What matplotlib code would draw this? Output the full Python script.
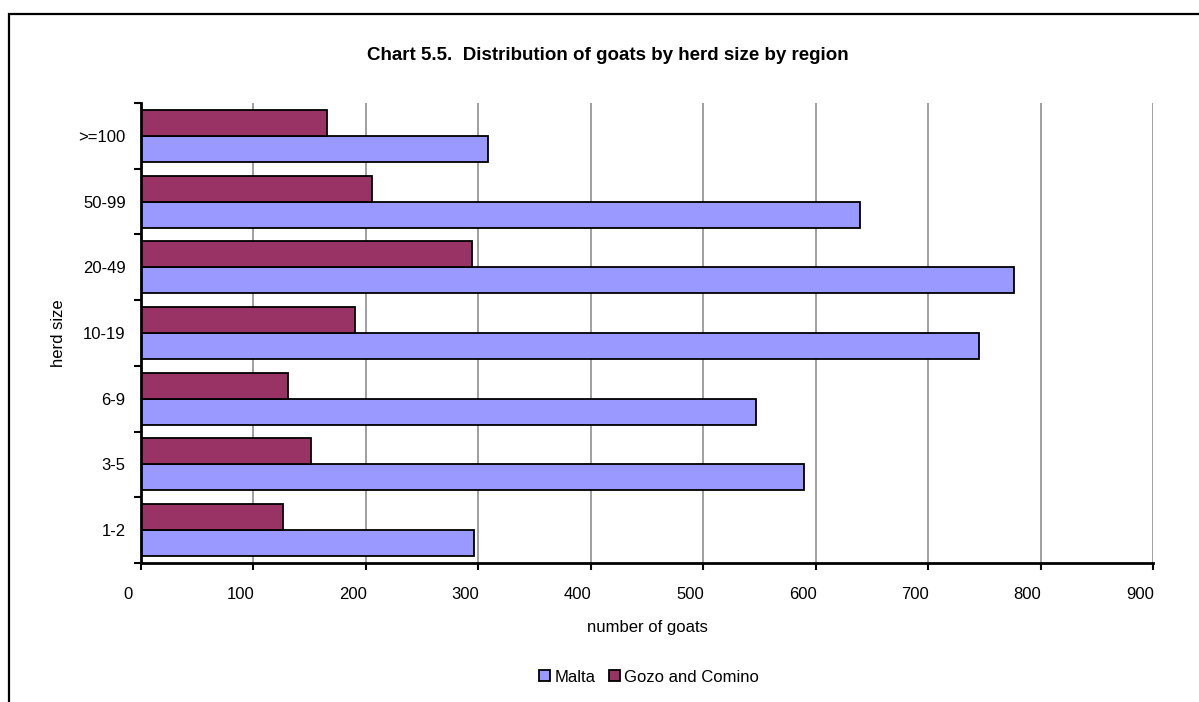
import numpy as np
import matplotlib.pyplot as plt
from matplotlib.patches import Rectangle, Patch
from matplotlib.transforms import ScaledTranslation

plt.rcParams['font.family'] = ['Liberation Sans', 'DejaVu Sans']

# dados
herd_sizes = ['1-2', '3-5', '6-9', '10-19', '20-49', '50-99', '>=100']
malta = [296, 590, 547, 745, 776, 639, 309]
gozo = [126, 151, 131, 190, 294, 205, 165]

malta_color = '#9999FF'
gozo_color = '#993366'

fig = plt.figure(figsize=(11.99, 7.02), dpi=100)
ax = fig.add_axes([141 / 1199, 1 - 563 / 702, 1012 / 1199, 460 / 702])

y = np.arange(len(herd_sizes))
h = 0.396
ax.barh(y - h / 2, malta, height=h, color=malta_color,
        edgecolor='black', linewidth=1.3, zorder=3)
ax.barh(y + h / 2, gozo, height=h, color=gozo_color,
        edgecolor='black', linewidth=1.3, zorder=3)

ax.set_xlim(0, 900)
ax.set_ylim(-0.5, len(herd_sizes) - 0.5)
ax.set_xticks(np.arange(0, 1000, 100))
ax.set_yticks(y)
ax.set_yticklabels(herd_sizes)
ax.set_yticks(np.arange(-0.5, len(herd_sizes), 1), minor=True)
ax.tick_params(axis='y', which='major', length=0, pad=11, labelsize=12)
ax.tick_params(axis='y', which='minor', length=5, width=1.5, direction='out')
ax.tick_params(axis='x', which='major', length=5, width=1.5,
               direction='out', pad=12, labelsize=12)

# rótulos do eixo x deslocados para a esquerda, como no original
offset = ScaledTranslation(-13 / 100, 0, fig.dpi_scale_trans)
for lbl in ax.get_xticklabels():
    lbl.set_transform(lbl.get_transform() + offset)

ax.grid(axis='x', color='#999999', linewidth=1.3, zorder=0)
ax.set_axisbelow(True)
for s in ['top', 'right']:
    ax.spines[s].set_visible(False)
for s in ['left', 'bottom']:
    ax.spines[s].set_linewidth(2)
    ax.spines[s].set_zorder(4)

ax.set_xlabel('number of goats', fontsize=12, labelpad=13)
ax.set_ylabel('herd size', fontsize=12, labelpad=9)

fig.text(608 / 1199, 1 - 55 / 702, 'Chart 5.5.  Distribution of goats by herd size by region',
         ha='center', va='center', fontsize=13.5, fontweight='bold')

handles = [Patch(facecolor=malta_color, edgecolor='black', linewidth=1.3, label='Malta'),
           Patch(facecolor=gozo_color, edgecolor='black', linewidth=1.3, label='Gozo and Comino')]
fig.legend(handles=handles, loc='center', bbox_to_anchor=(649 / 1199, 1 - 677 / 702),
           ncol=2, frameon=False, fontsize=12, handlelength=0.65, handleheight=0.65,
           handletextpad=0.25, columnspacing=0.8)

# moldura externa (cortada à direita e em baixo)
fig.patches.append(Rectangle((9 / 1199, -0.05), 1.1, 0.05 + 1 - 14 / 702,
                             transform=fig.transFigure, fill=False,
                             edgecolor='black', linewidth=1.6))

plt.savefig('out.png', dpi=100)
